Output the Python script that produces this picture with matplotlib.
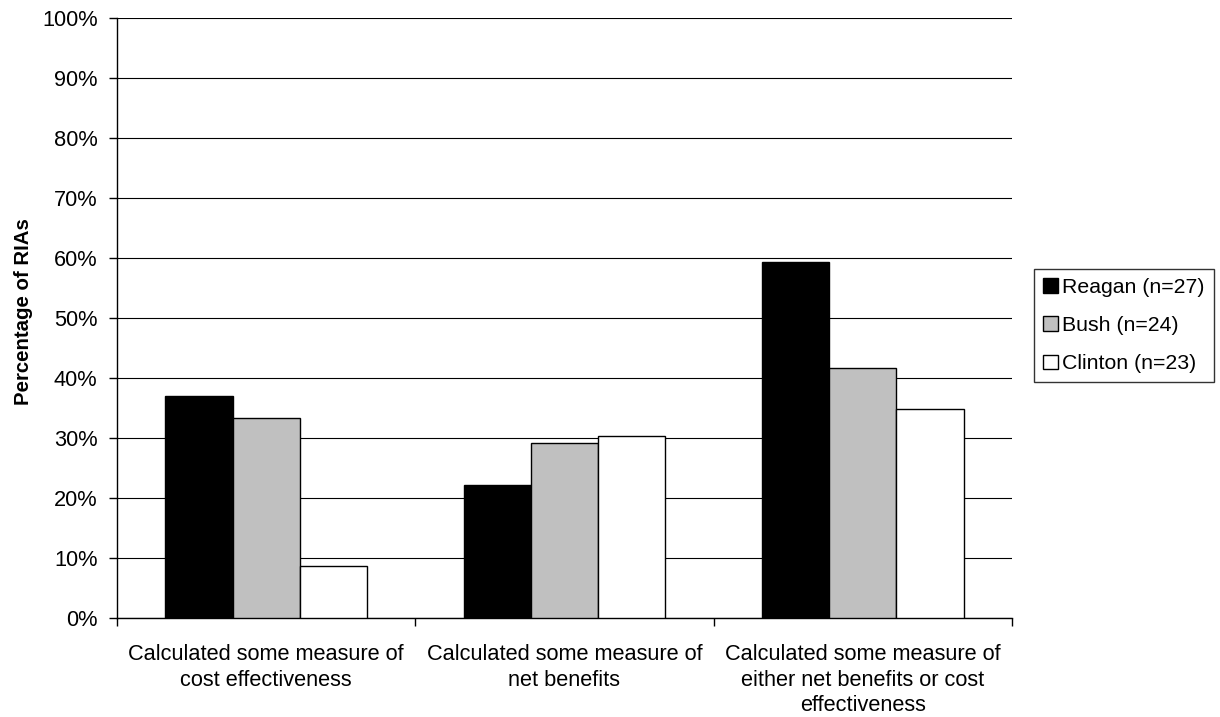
import numpy as np
import matplotlib.pyplot as plt
from matplotlib.ticker import MultipleLocator, PercentFormatter

plt.rcParams["font.family"] = ["Liberation Sans", "DejaVu Sans"]

# Share of RIAs (percent) by administration
categories = [
    "Calculated some measure of\ncost effectiveness",
    "Calculated some measure of\nnet benefits",
    "Calculated some measure of\neither net benefits or cost\neffectiveness",
]
series_names = ["Reagan (n=27)", "Bush (n=24)", "Clinton (n=23)"]
reagan = [37.0, 22.2, 59.3]
bush = [33.3, 29.2, 41.7]
clinton = [8.7, 30.4, 34.8]
colors = ["#000000", "#c0c0c0", "#ffffff"]

fs = 15.7

fig = plt.figure(figsize=(12.2, 7.17), dpi=100)
ax = fig.add_axes([117 / 1220, 1 - 618 / 717, (1012 - 117) / 1220, 600 / 717])

x = np.arange(len(categories))
width = 0.225
for i, (vals, name, col) in enumerate(zip([reagan, bush, clinton], series_names, colors)):
    ax.bar(x + (i - 1) * width, vals, width, color=col, edgecolor="black",
           linewidth=1.0, label=name, zorder=3)

ax.set_xlim(-0.5, len(categories) - 0.5)
ax.set_ylim(0, 100)
ax.yaxis.set_major_locator(MultipleLocator(10))
ax.yaxis.set_major_formatter(PercentFormatter(decimals=0))
ax.yaxis.grid(True, color="black", linewidth=0.8, zorder=0)

# category labels sit between the boundary tick marks
ax.set_xticks(np.arange(len(categories) + 1) - 0.5)
ax.set_xticklabels([])
ax.set_xticks(x, minor=True)
ax.set_xticklabels(categories, minor=True, fontsize=fs, linespacing=1.28)
ax.tick_params(axis="x", which="minor", length=0, pad=19)
ax.tick_params(axis="x", which="major", length=6, width=1, direction="out")
ax.tick_params(axis="y", length=6, width=1, direction="out", labelsize=fs, pad=8)

for side in ["top", "right"]:
    ax.spines[side].set_visible(False)
for side in ["left", "bottom"]:
    ax.spines[side].set_linewidth(1.0)

ax.set_ylabel("Percentage of RIAs", fontsize=14.7, fontweight="bold")
ax.yaxis.set_label_coords(-0.094, 0.51)

leg = ax.legend(loc="center left", bbox_to_anchor=(1.025, 0.487), frameon=True,
                fancybox=False, edgecolor="black", fontsize=15.3,
                handlelength=0.7, handleheight=0.7, handletextpad=0.2,
                labelspacing=0.9, borderpad=0.42, borderaxespad=0)
leg.get_frame().set_linewidth(1.0)

fig.savefig("out.png", dpi=100)
